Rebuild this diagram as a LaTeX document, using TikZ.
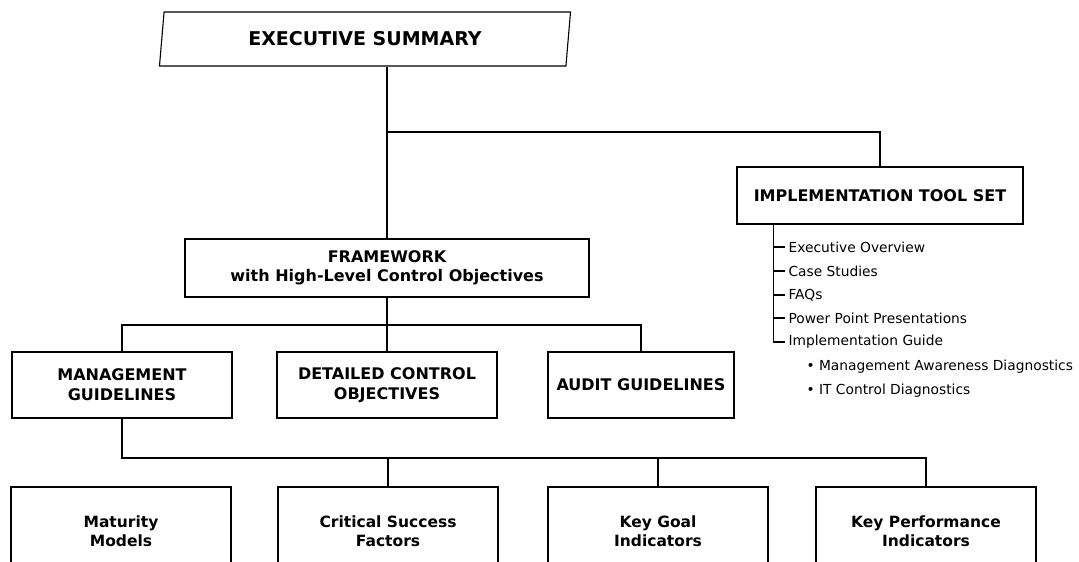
\documentclass[tikz,border=0pt]{standalone}
\usepackage{fontspec}
\setmainfont{DejaVu Sans}
\usetikzlibrary{shapes.geometric}

\begin{document}
\begin{tikzpicture}[x=1pt, y=-1pt, line width=1.1pt,
  box/.style={draw, rectangle, align=center, inner sep=0pt},
  head/.style={font=\fontsize{16}{20}\selectfont\bfseries},
  sub/.style={font=\fontsize{15.5}{19}\selectfont\bfseries},
  item/.style={anchor=west, inner sep=0pt, font=\fontsize{13.8}{16}\selectfont}]

  \useasboundingbox (0,0) rectangle (1079,562);
  \clip (0,0) rectangle (1079,562);

  % -- Top of the tree --
  \node[draw, trapezium, trapezium left angle=79.5, trapezium right angle=100.5,
        trapezium stretches=true, minimum width=412, minimum height=54, inner sep=0pt,
        font=\fontsize{19}{23}\selectfont\bfseries] (exec) at (365,39) {EXECUTIVE SUMMARY};

  \node[box, head, minimum width=404, minimum height=58] (frame) at (387,268)
    {FRAMEWORK\\[-1pt]with High-Level Control Objectives};
  \node[box, head, minimum width=286, minimum height=57] (tool) at (880,195.5)
    {IMPLEMENTATION TOOL SET};

  % -- Second row --
  \node[box, head, minimum width=220, minimum height=66] (mgmt) at (122,385)
    {MANAGEMENT\\GUIDELINES};
  \node[box, head, minimum width=220, minimum height=66] (detail) at (387,385)
    {DETAILED CONTROL\\OBJECTIVES};
  \node[box, head, minimum width=186, minimum height=66] (audit) at (641,385)
    {AUDIT GUIDELINES};

  % -- Third row (runs off the page) --
  \node[box, sub, minimum width=220, minimum height=88] (mat) at (121,531) {Maturity\\Models};
  \node[box, sub, minimum width=220, minimum height=88] (crit) at (388,531) {Critical Success\\Factors};
  \node[box, sub, minimum width=220, minimum height=88] (goal) at (658,531) {Key Goal\\Indicators};
  \node[box, sub, minimum width=220, minimum height=88] (kpi) at (926,531) {Key Performance\\Indicators};

  % -- Connectors --
  \draw (exec.south -| frame.north) -- (frame.north);
  \draw (frame.north |- 0,132) -| (tool.north);
  \draw (frame.south) -- (detail.north);
  \draw (mgmt.north) -- (mgmt.north |- 0,325) -| (audit.north);
  \draw (mgmt.south) -- (mgmt.south |- 0,458) -| (kpi.north);
  \draw (crit.north) -- (crit.north |- 0,458);
  \draw (goal.north) -- (goal.north |- 0,458);

  % Tool set contents
  \coordinate (stem) at ([xshift=37pt]tool.south west);
  \node[item] (i1) at (788,247) {Executive Overview};
  \node[item] (i2) at (788,271) {Case Studies};
  \node[item] (i3) at (788,295) {FAQs};
  \node[item] (i4) at (788,318) {Power Point Presentations};
  \node[item] (i5) at (788,342) {Implementation Guide};
  \node[item] (b1) at (806,367) {\textbullet\ Management Awareness Diagnostics};
  \node[item] (b2) at (806,391) {\textbullet\ IT Control Diagnostics};

  \draw (stem) |- ([xshift=-3pt]i5.west);
  \foreach \n in {i1,i2,i3,i4}
    \draw (\n.west -| stem) -- ([xshift=-3pt]\n.west);

\end{tikzpicture}
\end{document}
